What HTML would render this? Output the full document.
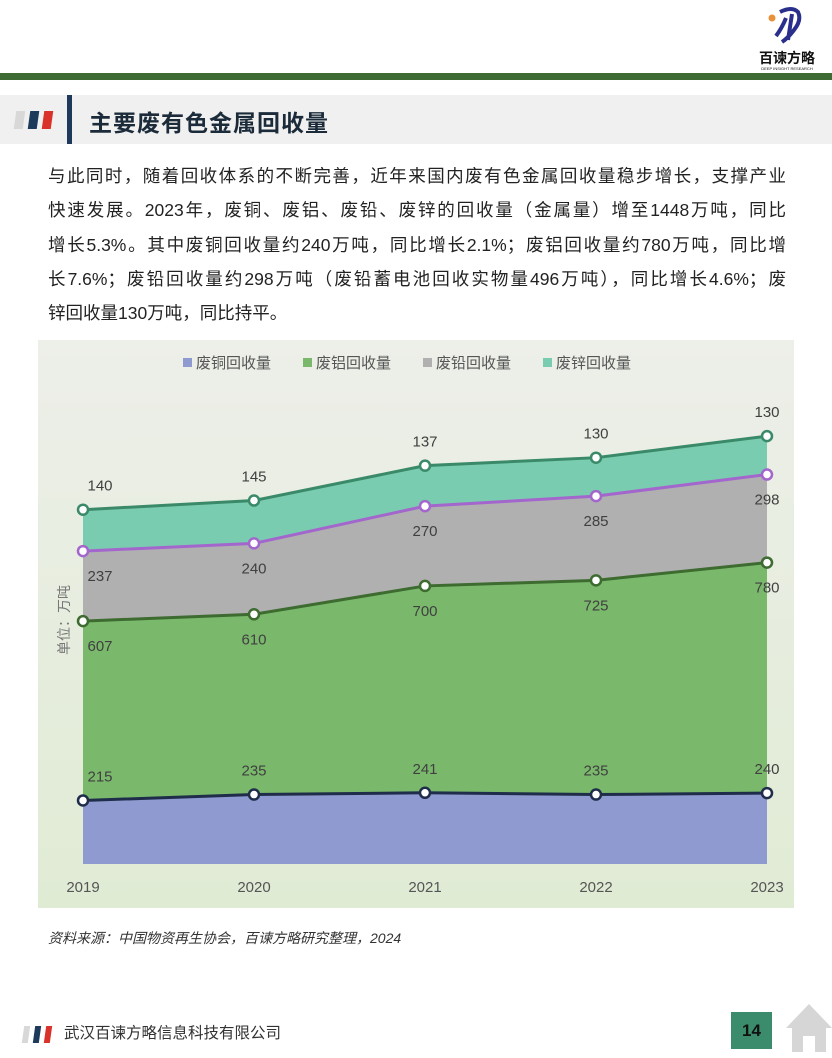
<!DOCTYPE html>
<html><head><meta charset="utf-8"><style>
body{margin:0;width:832px;height:1058px;background:#fff;font-family:"Liberation Sans","Noto Sans CJK SC",sans-serif;position:relative;overflow:hidden}
.abs{position:absolute}
.ln{white-space:nowrap;text-align:justify;text-align-last:justify;height:34.3px}
</style></head><body>
<div class="abs" style="left:752px;top:4px;width:70px;height:66px;text-align:center">
<svg width="70" height="42" viewBox="0 0 70 42"><circle cx="20" cy="14" r="3.5" fill="#e8913a"/><path d="M28 8 Q40 2 46 8 Q50 16 42 26 Q36 34 30 38 M34 14 Q30 24 24 32 M40 10 L36 36" stroke="#2a2f8c" stroke-width="4" fill="none"/></svg>
<div style="font-size:14px;font-weight:bold;color:#111;line-height:15px">百谏方略</div>
<div style="font-size:4px;color:#111">DEEP INSIGHT RESEARCH</div></div>
<div class="abs" style="left:0;top:73px;width:832px;height:7px;background:#3d6b33"></div>
<div class="abs" style="left:0;top:95px;width:832px;height:49px;background:#f0f0f0"></div>
<div class="abs" style="left:15px;top:111px;width:9px;height:18px;background:#d8d8d8;transform:skewX(-8deg)"></div>
<div class="abs" style="left:29px;top:111px;width:9px;height:18px;background:#1e3a5a;transform:skewX(-8deg)"></div>
<div class="abs" style="left:43px;top:111px;width:9px;height:18px;background:#d9322b;transform:skewX(-8deg)"></div>
<div class="abs" style="left:67px;top:95px;width:5px;height:49px;background:#1e3a5a"></div>
<div class="abs" style="left:89px;top:104px;font-size:23px;letter-spacing:1px;font-weight:bold;color:#1c2b3a">主要废有色金属回收量</div>
<div class="abs" style="left:48px;top:159px;width:738px;font-size:17.5px;line-height:34.3px;color:#222">
<div class="ln">与此同时，随着回收体系的不断完善，近年来国内废有色金属回收量稳步增长，支撑产业</div>
<div class="ln">快速发展。2023年，废铜、废铝、废铅、废锌的回收量（金属量）增至1448万吨，同比</div>
<div class="ln">增长5.3%。其中废铜回收量约240万吨，同比增长2.1%；废铝回收量约780万吨，同比增</div>
<div class="ln">长7.6%；废铅回收量约298万吨（废铅蓄电池回收实物量496万吨），同比增长4.6%；废</div>
<div style="white-space:nowrap">锌回收量130万吨，同比持平。</div>
</div>
<svg class="abs" style="left:0;top:0" width="832" height="1058" id="chart">
<defs><linearGradient id="bg" x1="0" y1="0" x2="0" y2="1"><stop offset="0" stop-color="#edefe9"/><stop offset="1" stop-color="#e0ebd4"/></linearGradient></defs>
<rect x="38" y="340" width="756" height="568" fill="url(#bg)"/>
<g id="g"></g>
<text x="69" y="620" transform="rotate(-90 69 620)" text-anchor="middle" font-size="14" fill="#777">单位：万吨</text>
</svg>
<div class="abs" style="left:48px;top:928px;font-size:14px;font-style:italic;color:#333">资料来源：中国物资再生协会，百谏方略研究整理，2024</div>
<div class="abs" style="left:23px;top:1026px;width:6px;height:17px;background:#d8d8d8;transform:skewX(-8deg)"></div>
<div class="abs" style="left:34px;top:1026px;width:6px;height:17px;background:#1e3a5a;transform:skewX(-8deg)"></div>
<div class="abs" style="left:45px;top:1026px;width:6px;height:17px;background:#d9322b;transform:skewX(-8deg)"></div>
<div class="abs" style="left:64px;top:1021px;font-size:15.5px;color:#333">武汉百谏方略信息科技有限公司</div>
<div class="abs" style="left:731px;top:1012px;width:41px;height:37px;background:#3a8c6c;color:#111;font-size:17px;font-weight:bold;text-align:center;line-height:37px">14</div>
<svg class="abs" style="left:785px;top:1002px" width="47" height="52"><path d="M24 2 L47 26 L41 26 L41 50 L30 50 L30 34 L18 34 L18 50 L7 50 L7 26 L1 26 Z" fill="#d6d6d6"/></svg>
<script>
const years=["2019","2020","2021","2022","2023"];
const copper=[215,235,241,235,240];
const aluminum=[607,610,700,725,780];
const lead=[237,240,270,285,298];
const zinc=[140,145,137,130,130];
const names=["废铜回收量","废铝回收量","废铅回收量","废锌回收量"];
const fills=["#8e9ad0","#7ab96c","#b0b0b0","#7accb0"];
const strokes=["#1f2d4a","#3d6b30","#a366cc","#3a8a6a"];
const X=i=>83+i*171, Y=v=>864-v*0.2955;
const g=document.getElementById('g'),NS="http://www.w3.org/2000/svg";
function mk(t,a){const e=document.createElementNS(NS,t);for(const k in a)e.setAttribute(k,a[k]);g.appendChild(e);return e;}
const series=[copper,aluminum,lead,zinc];
let base=years.map(()=>0),cums=[];
series.forEach((s,k)=>{const top=s.map((v,i)=>base[i]+v);cums.push({top,base:base.slice()});base=top;});
for(let k=3;k>=0;k--){const c=cums[k];
let d=c.top.map((v,i)=>(i?'L':'M')+X(i)+' '+Y(v)).join(' ');
d+=' '+c.base.map((v,i)=>i).reverse().map(i=>'L'+X(i)+' '+Y(c.base[i])).join(' ')+'Z';
const p=mk('path',{d,fill:fills[k]});

}
cums.forEach((c,k)=>{const l=mk('polyline',{points:c.top.map((v,i)=>X(i)+','+Y(v)).join(' '),fill:'none',stroke:strokes[k],'stroke-width':3});


c.top.forEach((v,i)=>{const m=mk('circle',{cx:X(i),cy:Y(v),r:5,fill:'#fff',stroke:strokes[k],'stroke-width':2.5});


const above=(k==0||k==3);
const t=mk('text',{x:Math.max(X(i),100),y:Y(v)+(above?-19:30),'text-anchor':'middle','font-size':15,fill:'#404040'});
t.textContent=series[k][i];

});});
years.forEach((y,i)=>{const t=mk('text',{x:Math.min(Math.max(X(i),82),767),y:892,'text-anchor':'middle','font-size':15,fill:'#555'});t.textContent=y;

});
let lx=183;names.forEach((n,k)=>{const r=mk('rect',{x:lx,y:358,width:9,height:9,fill:fills[k]});


const t=mk('text',{x:lx+13,y:368,'font-size':15,fill:'#555'});t.textContent=n;


lx+=120;});
</script>
</body></html>
